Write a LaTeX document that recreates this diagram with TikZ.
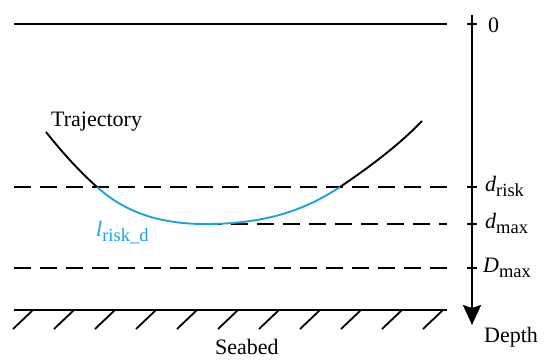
\documentclass[tikz,border=0pt]{standalone}
\usepackage{fontspec}
\setmainfont{Liberation Serif}
\usetikzlibrary{arrows.meta}
\definecolor{riskblue}{HTML}{1BA3DF}
\definecolor{seafg}{HTML}{000000}
\newcommand{\subtxt}[2]{{\itshape #1}\raisebox{-5pt}{\fontsize{18.5}{18.5}\selectfont #2}}

\begin{document}
\begin{tikzpicture}[x=1pt,y=-1pt,font=\fontsize{22}{26}\selectfont]
  \tikzstyle{sealine}=[line width=1.7pt, draw=seafg]
  \tikzstyle{dashline}=[sealine, dash pattern=on 17pt off 9pt]
  \tikzstyle{depthaxis}=[line width=2.4pt, draw=seafg, -{Stealth[length=20pt,width=18pt,inset=3pt]}]
  \tikzstyle{axistick}=[line width=1.7pt, draw=seafg]
  \tikzstyle{hatch}=[line width=1.8pt, draw=seafg]
  \tikzstyle{traj}=[line width=1.9pt, draw=seafg]
  \tikzstyle{riskpart}=[traj, draw=riskblue]
  \tikzstyle{depthlabel}=[anchor=base west, inner sep=0pt, text=seafg]

  \path[use as bounding box] (0,0) rectangle (550,362);

  % surface, levels and seabed
  \coordinate (surfL) at (14,24);
  \coordinate (surfR) at (447,24);
  \draw[sealine] (surfL) -- (surfR);
  \foreach \y/\n in {187/risk,268/Dmax} {
    \coordinate (\n L) at (14,\y);
    \coordinate (\n R) at (447,\y);
    \draw[dashline] (\n L) -- (\n R);
  }
  \coordinate (bottom) at (205,224);
  \coordinate (maxR) at (447,224);
  \draw[dashline] (bottom) -- (maxR);

  \coordinate (bedL) at (14,310);
  \coordinate (bedR) at (447,310);
  \draw[sealine] (bedL) -- (bedR);
  \foreach \i in {0,...,10} {
    \coordinate (h\i) at ({33+41*\i},310);
    \draw[hatch] (h\i) -- ++(-20,19);
  }
  \node[depthlabel] (seabed) at (215,354) {Seabed};

  % depth axis
  \coordinate (axtop) at (472,15);
  \coordinate (axbot) at (472,325);
  \draw[depthaxis] (axtop) -- (axbot);
  \foreach \y/\n in {24/zero,187/drisk,224/dmax,268/Dmax} {
    \coordinate (t\n) at (472,\y);
    \draw[axistick] ([xshift=-5pt]t\n) -- ([xshift=5pt]t\n);
  }
  \node[depthlabel] (lzero) at (488,32) {0};
  \node[depthlabel] (ldrisk) at (485,191) {\subtxt{d}{risk}};
  \node[depthlabel] (ldmax) at (485,228) {\subtxt{d}{max}};
  \node[depthlabel] (lDmax) at (483,272) {\subtxt{D}{max}};
  \node[depthlabel] (ldepth) at (484,342) {Depth};

  % trajectory
  \coordinate (trajstart) at (46,132);
  \coordinate (riskin) at (97,187);
  \coordinate (riskout) at (340,187);
  \coordinate (trajend) at (422,121);
  \draw[traj] (trajstart) .. controls (62,152) and (78,170) .. (riskin);
  \draw[riskpart] (riskin) .. controls (128,215) and (165,224) .. (bottom)
    .. controls (262,224) and (302,212) .. (riskout);
  \draw[traj] (riskout) .. controls (368,168) and (398,146) .. (trajend);

  \node[depthlabel] (trajectory) at (51,126) {Trajectory};
  \node[depthlabel, text=riskblue] (lrisk) at (96,236) {\subtxt{l}{risk\_d}};
\end{tikzpicture}
\end{document}
